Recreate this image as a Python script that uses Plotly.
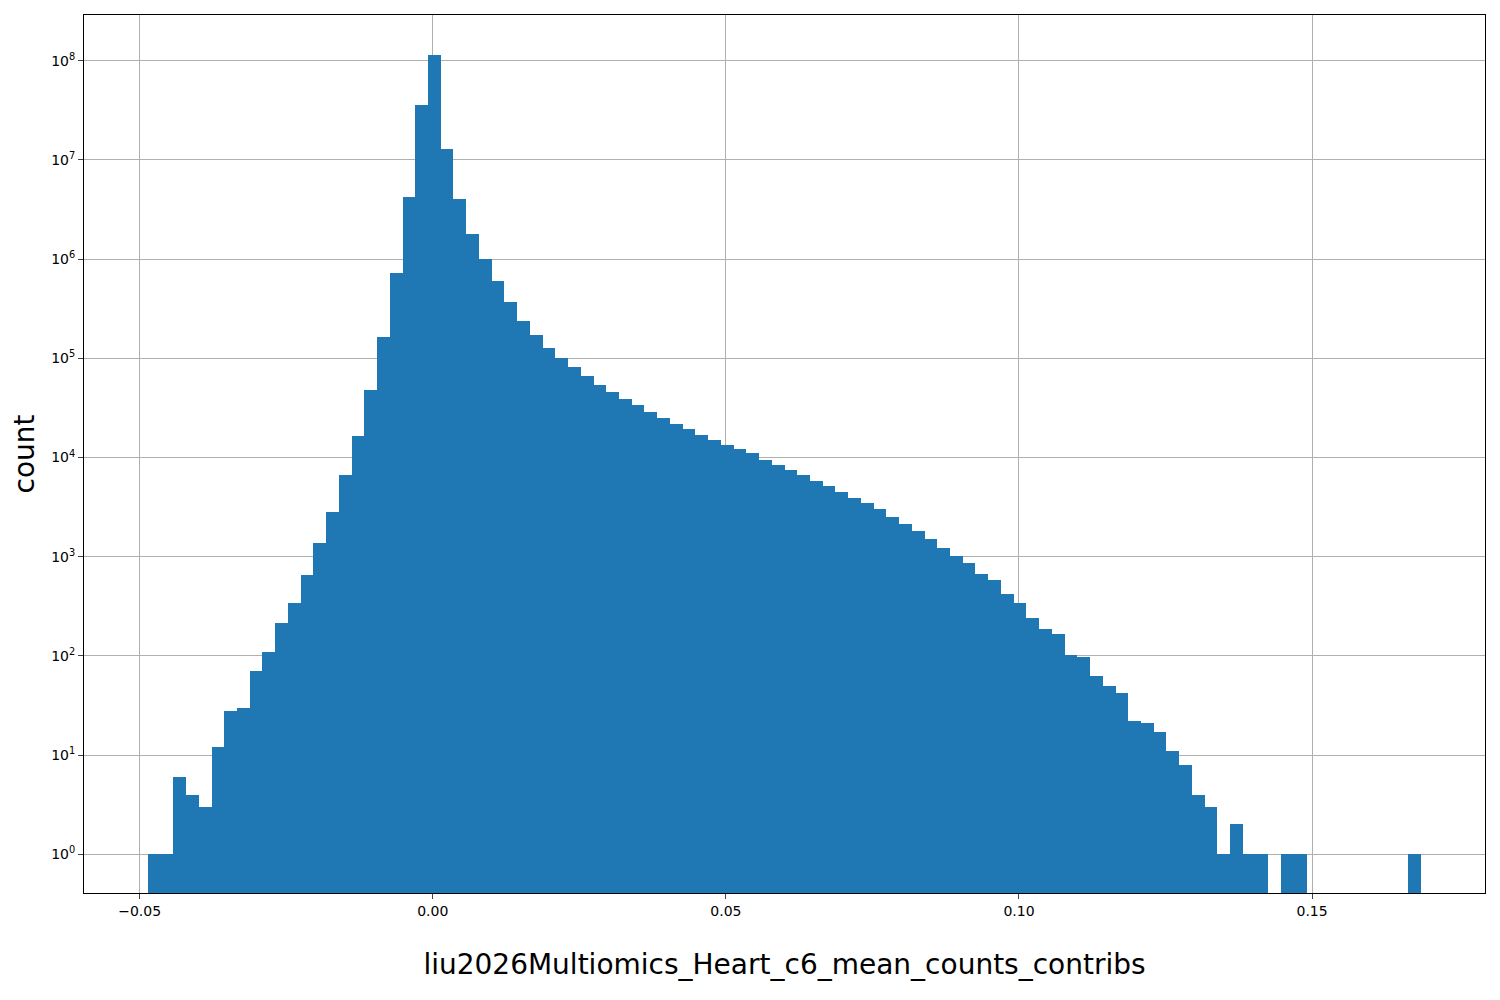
import plotly.graph_objects as go
import numpy as np

bin_start = -0.0486
bin_end = 0.1686
n_bins = 100

counts = [1, 1, 6, 4, 3, 12, 28, 30, 70, 110,
          215, 340, 660, 1380, 2850, 6700, 16500, 48000, 165000, 720000,
          4.2e6, 3.6e7, 1.15e8, 1.28e7, 4.0e6, 1.8e6, 1.0e6, 6.0e5, 3.7e5, 2.4e5,
          1.7e5, 1.28e5, 1.0e5, 8.1e4, 6.6e4, 5.4e4, 4.6e4, 3.9e4, 3.4e4, 2.9e4,
          2.5e4, 2.15e4, 1.95e4, 1.7e4, 1.5e4, 1.35e4, 1.22e4, 1.1e4, 9400, 8400,
          7500, 6700, 5800, 5100, 4500, 3900, 3500, 3000, 2500, 2150,
          1800, 1500, 1220, 1020, 870, 670, 580, 420, 345, 240,
          185, 165, 102, 98, 62, 50, 42, 22, 21, 17,
          11, 8, 4, 3, 1, 2, 1, 1, 0, 1,
          1, 0, 0, 0, 0, 0, 0, 0, 0, 1]

x_ticks = [-0.05, 0.0, 0.05, 0.10, 0.15]
x_labels = ["\u22120.05", "0.00", "0.05", "0.10", "0.15"]
y_ticks = [10 ** k for k in range(0, 9)]
y_labels = ["10<sup>%d</sup>" % k for k in range(0, 9)]

edges = np.linspace(bin_start, bin_end, n_bins + 1)
width = edges[1] - edges[0]
centers = (edges[:-1] + edges[1:]) / 2
heights = [c if c > 0 else None for c in counts]

fig = go.Figure()
fig.add_trace(go.Bar(x=centers, y=heights, width=width,
                     marker=dict(color="#1f77b4", line=dict(width=0))))

fig.update_layout(
    width=1500, height=1000,
    plot_bgcolor="white", paper_bgcolor="white",
    margin=dict(l=76, r=23, t=7, b=115),
    showlegend=False, bargap=0,
    font=dict(family="DejaVu Sans", color="black", size=14),
    xaxis=dict(range=[-0.0595, 0.1795], tickvals=x_ticks, ticktext=x_labels,
               showgrid=True, gridcolor="#b0b0b0", showline=True, linecolor="black",
               mirror=True, ticks="outside", zeroline=False,
               title=dict(text="liu2026Multiomics_Heart_c6_mean_counts_contribs",
                          font=dict(size=28), standoff=36)),
    yaxis=dict(type="log", range=[-0.39, 8.46], tickvals=y_ticks, ticktext=y_labels,
               showgrid=True, gridcolor="#b0b0b0", showline=True, linecolor="black",
               mirror=True, ticks="outside", zeroline=False,
               title=dict(text="count", font=dict(size=28), standoff=10)),
)

fig.write_html("out.html")
